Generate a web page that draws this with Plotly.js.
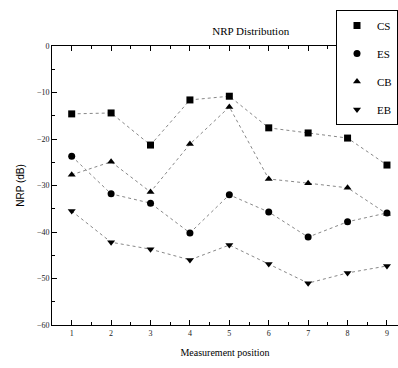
<!DOCTYPE html>
<html><head><meta charset="utf-8">
<script src="https://cdn.plot.ly/plotly-3.0.1.min.js"></script>
<style>html,body{margin:0;padding:0;background:#fff}#chart{width:398px;height:368px}</style>
</head><body><div id="chart"></div>
<script>
const positions = [1,2,3,4,5,6,7,8,9];
const CS = [-14.6,-14.4,-21.3,-11.6,-10.8,-17.6,-18.7,-19.8,-25.6];
const ES = [-23.7,-31.8,-33.8,-40.2,-32.0,-35.7,-41.1,-37.8,-35.9];
const CB = [-27.7,-24.9,-31.4,-21.1,-13.1,-28.6,-29.5,-30.5,-36.1];
const EB = [-35.5,-42.2,-43.7,-46.0,-42.8,-46.9,-51.0,-48.8,-47.3];
const names = ['CS','ES','CB','EB'];
const symbols = ['square','circle','triangle-up','triangle-down'];
const series = [CS,ES,CB,EB];
const serif = 'Liberation Serif, Times New Roman, serif';
const lineTraces = series.map((s,i)=>({
  x: positions, y: s, name: names[i], type:'scatter', mode:'lines', showlegend:false,
  line:{color:'#888', width:1, dash:'dot'}, hoverinfo:'skip'
}));
const markerTraces = series.map((s,i)=>({
  x: positions, y: s, name: names[i], type:'scatter', mode:'markers', legendgroup:names[i],
  marker:{symbol:symbols[i], color:'#000', size:7}
}));
const layout = {
  width:398, height:368,
  margin:{l:52,r:0,t:46,b:43},
  paper_bgcolor:'#fff', plot_bgcolor:'#fff',
  showlegend:true,
  title:{text:'NRP Distribution', font:{family:serif,size:11,color:'#000'}, x:0.63, xanchor:'center', y:0.915, yanchor:'middle'},
  font:{family:serif,color:'#000'},
  xaxis:{range:[0.5,9.28], tickvals:positions, ticks:'inside', ticklen:5, tickcolor:'#000',
    showline:true, linecolor:'#000', linewidth:1, mirror:'ticks', showgrid:false, zeroline:false,
    tickfont:{family:serif,size:8,color:'#222'},
    minor:{dtick:0.5, tick0:0.5, ticks:'inside', ticklen:3, tickcolor:'#000'},
    title:{text:'Measurement position', font:{family:serif,size:10,color:'#000'}, standoff:12}},
  yaxis:{range:[-60,0], dtick:10, ticks:'inside', ticklen:5, tickcolor:'#000',
    showline:true, linecolor:'#000', linewidth:1, showgrid:false, zeroline:false,
    tickfont:{family:serif,size:8,color:'#222'},
    minor:{dtick:5, ticks:'inside', ticklen:3, tickcolor:'#000'},
    title:{text:'NRP (dB)', font:{family:'Liberation Sans, Arial, sans-serif',size:10,color:'#000'}, standoff:10}},
  legend:{x:1, xanchor:'right', y:1.129, yanchor:'top', bgcolor:'#fff', bordercolor:'#000', borderwidth:1,
    font:{family:serif,size:11,color:'#000'}, itemwidth:30, tracegroupgap:9}
};
Plotly.newPlot('chart', lineTraces.concat(markerTraces), layout, {displayModeBar:false, staticPlot:true});
</script></body></html>
